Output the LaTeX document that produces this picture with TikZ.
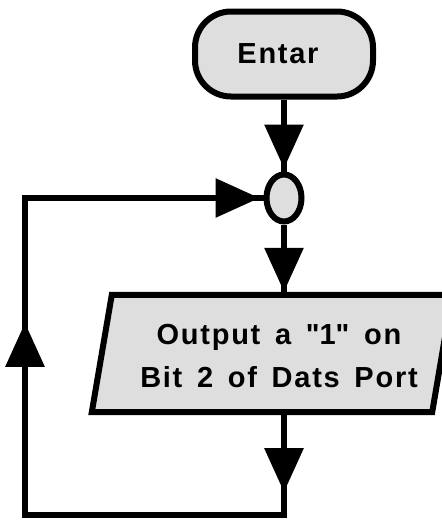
\documentclass[tikz,border=0pt]{standalone}
\usepackage{fontspec}
\setmainfont{Liberation Sans}[LetterSpace=6, WordSpace=1.5]
\usetikzlibrary{arrows.meta,decorations.markings,calc,shapes.geometric}

\tikzset{
  x=1pt, y=-1pt,
  flowline/.style={line width=6pt, line join=miter},
  shaded/.style={fill=black!13},
  flowhead/.tip={Triangle[length=44pt, width=38pt]},
  headat/.style={postaction={decorate, decoration={markings,
      mark=at position #1 with {\arrow{flowhead}}}}},
  labeltext/.style={font=\fontsize{29}{43}\selectfont\bfseries, align=center, inner sep=0pt},
}

\begin{document}
\begin{tikzpicture}
\useasboundingbox (0,0) rectangle (442,520);
\clip (0,0) rectangle (442,520);

% start terminal
\node[flowline, draw, shaded, rounded corners=36pt, minimum width=178pt,
      minimum height=85pt, labeltext] (term) at (284,54) {\hspace*{-12pt}Entar};

% loop connector
\node[flowline, draw, shaded, ellipse, minimum width=35pt, minimum height=47pt,
      inner sep=0pt] (conn) at (284,198) {};

% output parallelogram: a frame node, outline drawn from its corners
\node[minimum width=340pt, minimum height=117pt, inner sep=0pt] (box) at (279,353.5) {};
\draw[flowline, shaded]
  ([xshift=3pt]box.north west) -- ([xshift=3pt]box.north east)
  -- ([xshift=-17pt]box.south east) -- ([xshift=-17pt]box.south west) -- cycle;
\node[labeltext] (boxtext) at (279,356)
  {Output a \textquotedbl1\textquotedbl{} on\\Bit 2 of Dats Port};

% corners of the return path
\coordinate (br) at (284,515);
\coordinate (bl) at (25,515);

% connectors
\draw[flowline, headat=-3pt] (term.south) -- (conn.north);
\draw[flowline, headat=-3pt] (conn.south) -- (conn |- box.north);
\draw[flowline, headat=80pt, headat=554pt, headat=-4pt]
  (conn |- box.south) -- (br) -- (bl) -- (bl |- conn) -- (conn.west);
\end{tikzpicture}
\end{document}
